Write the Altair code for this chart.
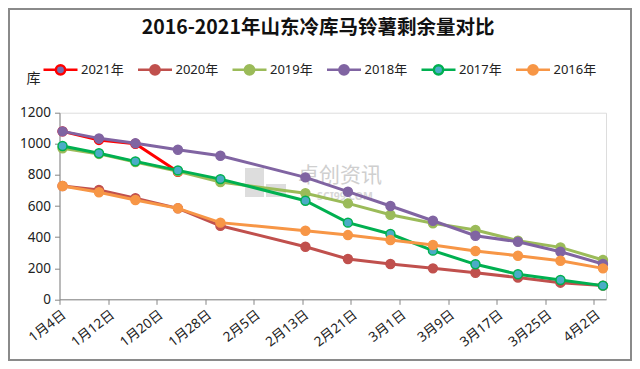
import altair as alt
import pandas as pd

# ---------------- data ----------------
dates = ["2021-01-04", "2021-01-10", "2021-01-16", "2021-01-23", "2021-01-30",
         "2021-02-13", "2021-02-20", "2021-02-27", "2021-03-06", "2021-03-13",
         "2021-03-20", "2021-03-27", "2021-04-03"]

series = ["2021年", "2020年", "2019年", "2018年", "2017年", "2016年"]

v2021 = [1080, 1025, 1000, 820]
v2020 = [729, 703, 650, 585, 473, 338, 259, 227, 199, 171, 140, 107, 88]
v2019 = [971, 935, 883, 823, 754, 682, 617, 544, 489, 446, 377, 334, 253]
v2018 = [1080, 1035, 1003, 962, 923, 784, 692, 600, 505, 409, 370, 306, 227]
v2017 = [986, 939, 887, 829, 773, 634, 493, 420, 313, 225, 161, 124, 88]
v2016 = [729, 688, 639, 585, 493, 441, 413, 381, 349, 311, 280, 248, 199]
values = [v2021, v2020, v2019, v2018, v2017, v2016]

line_colors = ["#FF0000", "#C0504D", "#9BBB59", "#8064A2", "#00B050", "#F79646"]
fill_colors = ["#7470B0", "#C0504D", "#9BBB59", "#8064A2", "#4BACC6", "#F79646"]

tick_dates = ["2021-01-04", "2021-01-12", "2021-01-20", "2021-01-28", "2021-02-05",
              "2021-02-13", "2021-02-21", "2021-03-01", "2021-03-09", "2021-03-17",
              "2021-03-25", "2021-04-02"]
tick_labels = ["1月4日", "1月12日", "1月20日", "1月28日", "2月5日", "2月13日",
               "2月21日", "3月1日", "3月9日", "3月17日", "3月25日", "4月2日"]
y_ticks = [0, 200, 400, 600, 800, 1000, 1200]

title_text = "2016-2021年山东冷库马铃薯剩余量对比"
y_title = "库"
watermark_cn = "卓创资讯"
watermark_en = "SCI99.COM"

# ---------------- build ----------------
rows = []
for s, vals in zip(series, values):
    for d, v in zip(dates, vals):
        rows.append({"series": s, "date": d, "value": v})
df = pd.DataFrame(rows)


def ms(d):
    return int(pd.Timestamp(d, tz="UTC").value // 10**6)


x_domain = [ms("2021-01-04"), ms("2021-04-04")]
tick_ms = [ms(d) for d in tick_dates]
label_arr = "[" + ",".join("'%s'" % t for t in tick_labels) + "]"

FONT = "Noto Sans, Noto Sans CJK SC"
W, H = 546.5, 186.6
PL, PT, PR, PB = 51.5, 104.7, 26, 61.7

x_enc = alt.X(
    "t:T",
    scale=alt.Scale(type="utc", domain=x_domain),
    axis=alt.Axis(
        values=tick_ms,
        labelExpr=f"{label_arr}[round((datum.value - {x_domain[0]}) / 691200000)]",
        labelAngle=-38,
        labelFontSize=13.5,
        labelFont=FONT,
        labelColor="#222",
        labelPadding=3,
        tickSize=5,
        tickColor="#868686",
        domainColor="#868686",
        grid=False,
        title=None,
    ),
)
y_enc = alt.Y(
    "value:Q",
    scale=alt.Scale(domain=[0, 1200], nice=False),
    axis=alt.Axis(
        values=y_ticks,
        format="d",
        labelFontSize=13.5,
        labelFont=FONT,
        labelColor="#222",
        labelPadding=4,
        tickSize=5,
        tickColor="#868686",
        domainColor="#868686",
        grid=False,
        title=y_title,
        titleAngle=0,
        titleX=-26.5,
        titleY=-34.7,
        titleAlign="center",
        titleBaseline="middle",
        titleFont=FONT,
        titleFontSize=14,
        titleFontWeight="normal",
        titleColor="#222",
    ),
)

# legend symbol: line with a circle
r = 0.55
sym_path = (f"M-1,0H{1 - r}A{r},{r},0,1,1,{1 + r},0H3M{1 + r},0A{r},{r},0,1,1,{1 - r},0")
legend = alt.Legend(
    title=None,
    orient="none",
    direction="horizontal",
    legendX=-17.5,
    legendY=-53,
    symbolType=sym_path,
    symbolSize=289,
    symbolStrokeWidth=2.5,
    labelFont=FONT,
    labelFontSize=13,
    labelColor="#222",
    labelOffset=19,
    columnPadding=8.5,
)

stroke_scale = alt.Scale(domain=series, range=line_colors)
fill_scale = alt.Scale(domain=series, range=fill_colors)

base = alt.Chart(df).transform_calculate(t="time(datum.date) + 43200000")

layers = []

# watermark
wm = pd.DataFrame({"a": [watermark_cn], "b": [watermark_en], "c": [title_text]})
layers.append(alt.Chart(wm).mark_rect(color="#d4d4d4", opacity=0.8).encode(
    x=alt.value(245 - 8 - PL), x2=alt.value(264 - 8 - PL),
    y=alt.value(168 - 8 - PT), y2=alt.value(197 - 8 - PT)))
layers.append(alt.Chart(wm).mark_rect(color="#d4d4d4", opacity=0.8).encode(
    x=alt.value(266 - 8 - PL), x2=alt.value(286 - 8 - PL),
    y=alt.value(184 - 8 - PT), y2=alt.value(197 - 8 - PT)))
layers.append(alt.Chart(wm).mark_text(font="Noto Sans CJK SC", fontSize=21, color="#cfcfcf",
                                       align="center", baseline="middle").encode(
    text="a:N", x=alt.value(340 - 8 - PL), y=alt.value(176 - 8 - PT)))
layers.append(alt.Chart(wm).mark_text(font="Noto Sans", fontSize=10.5, fontWeight="bold",
                                       color="#d8d8d8", align="center", baseline="middle").encode(
    text="b:N", x=alt.value(345 - 8 - PL), y=alt.value(197 - 8 - PT)))

for s in series:
    sub = base.transform_filter(alt.datum.series == s)
    layers.append(sub.mark_line(strokeWidth=3).encode(
        x=x_enc, y=y_enc,
        stroke=alt.Stroke("series:N", scale=stroke_scale, legend=legend),
    ))
    layers.append(sub.mark_point(filled=True, size=80, strokeWidth=1.5, opacity=1).encode(
        x=x_enc, y=y_enc,
        stroke=alt.Stroke("series:N", scale=stroke_scale, legend=legend),
        fill=alt.Fill("series:N", scale=fill_scale, legend=legend),
    ))

# title
layers.append(alt.Chart(wm).mark_text(font="Noto Sans CJK SC", fontSize=19.5, fontWeight="bold",
                                       color="#111", align="center", baseline="middle").encode(
    text="c:N", x=alt.value(318 - 8 - PL), y=alt.value(28 - 8 - PT)))

# frame around the whole chart
layers.append(alt.Chart(wm).mark_rect(fill=None, stroke="#8a8a8a", strokeWidth=2).encode(
    x=alt.value(1 - PL), x2=alt.value(623 - PL),
    y=alt.value(1 - PT), y2=alt.value(352 - PT)))

chart = alt.layer(*layers).properties(
    width=W, height=H,
    padding={"left": PL, "top": PT, "right": PR, "bottom": PB},
    autosize=alt.AutoSizeParams(type="none"),
).configure_view(stroke=None).configure(background="white")

chart.save("out.html", embed_options={"renderer": "svg", "actions": False})
